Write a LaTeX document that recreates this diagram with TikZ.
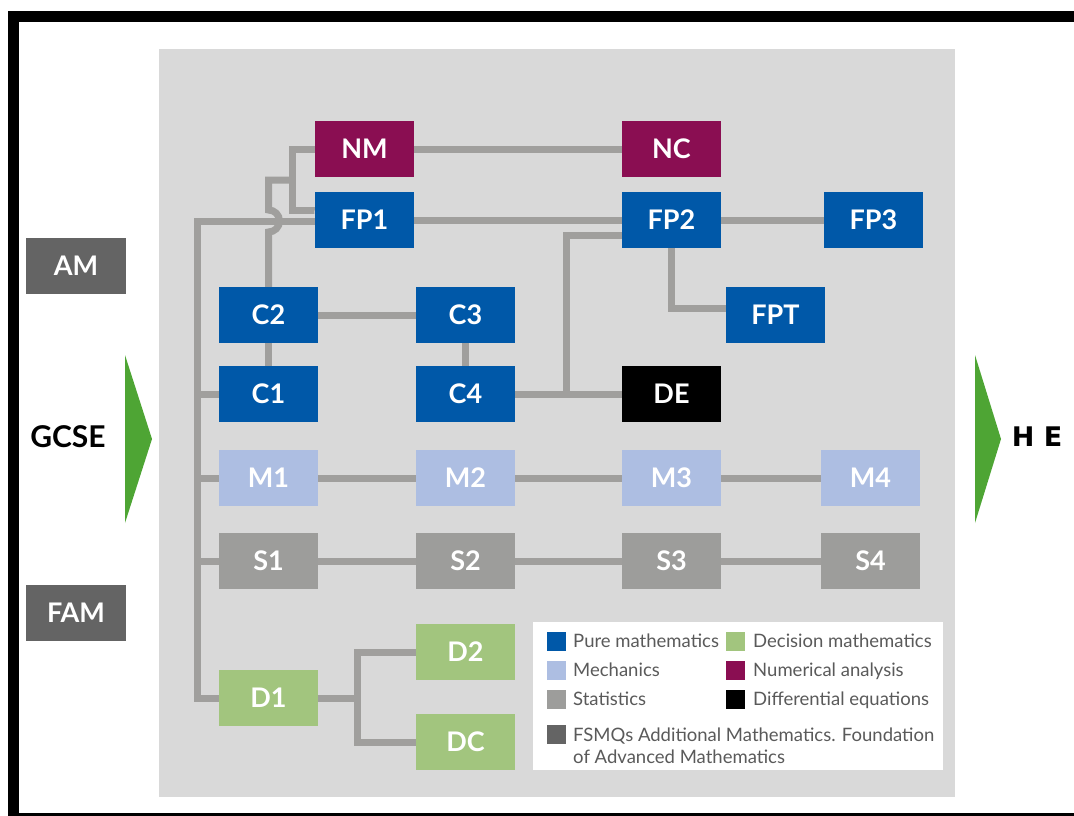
\documentclass[tikz,border=0pt]{standalone}
\usepackage{fontspec}
\setmainfont{Lato}
\newfontfamily\dvfont{DejaVu Sans}
\usetikzlibrary{calc}
\pgfdeclarelayer{back}
\pgfdeclarelayer{bg}
\pgfsetlayers{back,bg,main}
\definecolor{pureblue}{HTML}{0058A8}
\definecolor{numpurple}{HTML}{8A0E52}
\definecolor{mechblue}{HTML}{ADBEE2}
\definecolor{statgray}{HTML}{9D9D9B}
\definecolor{decgreen}{HTML}{A2C57E}
\definecolor{fsmqgray}{HTML}{646464}
\definecolor{conngray}{HTML}{A09F9D}
\definecolor{panelgray}{HTML}{D9D9D9}
\definecolor{arrowgreen}{HTML}{4EA534}
\definecolor{legtext}{HTML}{5A5A5A}
\begin{document}
\begin{tikzpicture}[x=1pt,y=-1pt,
  box/.style={rectangle, minimum width=99pt, minimum height=56pt, inner sep=0pt,
    text=white, font=\bfseries\fontsize{27}{30}\selectfont},
  pure/.style={box, fill=pureblue},
  num/.style={box, fill=numpurple},
  mech/.style={box, fill=mechblue},
  stat/.style={box, fill=statgray},
  dec/.style={box, fill=decgreen},
  fsmq/.style={box, fill=fsmqgray, minimum width=100pt},
  diffeq/.style={box, fill=black},
  conn/.style={draw=conngray, line width=7pt, line join=miter},
  legsq/.style={rectangle, minimum size=19pt, inner sep=0pt},
  legtxt/.style={anchor=base west, inner sep=0pt, text=legtext, font=\fontsize{18.5}{22}\selectfont},
  endarrow/.style={fill=arrowgreen},
  side/.style={font=\bfseries\fontsize{30}{32}\selectfont, text=black, inner sep=0pt}
]
\useasboundingbox (0,0) rectangle (1074,815);
\begin{pgfonlayer}{back}
\fill[white] (0,0) rectangle (1074,815);
\fill[panelgray] (159,49) rectangle (955,797);
\end{pgfonlayer}
\begin{scope}
\clip (0,0) rectangle (1074,815);
\draw[line width=11pt] (13.5,16) rectangle (1100,818);
\end{scope}

% boxes
\node[num]  (NM)  at (364.5,149) {NM};
\node[num]  (NC)  at (671.5,149) {NC};
\node[pure] (FP1) at (364.5,220) {FP1};
\node[pure] (FP2) at (671.5,220) {FP2};
\node[pure] (FP3) at (873.5,220) {FP3};
\node[pure] (FPT) at (775.5,315) {FPT};
\node[pure] (C2)  at (268.5,315) {C2};
\node[pure] (C3)  at (465.5,315) {C3};
\node[pure] (C1)  at (268.5,394) {C1};
\node[pure] (C4)  at (465.5,394) {C4};
\node[diffeq] (DE) at (671.5,394) {DE};
\node[mech] (M1)  at (268.5,478) {M1};
\node[mech] (M2)  at (465.5,478) {M2};
\node[mech] (M3)  at (671.5,478) {M3};
\node[mech] (M4)  at (870.5,478) {M4};
\node[stat] (S1)  at (268.5,561) {S1};
\node[stat] (S2)  at (465.5,561) {S2};
\node[stat] (S3)  at (671.5,561) {S3};
\node[stat] (S4)  at (870.5,561) {S4};
\node[dec]  (D2)  at (465.5,652) {D2};
\node[dec]  (D1)  at (268.5,698) {D1};
\node[dec]  (DC)  at (465.5,742) {DC};
\node[fsmq] (AM)  at (76,266) {AM};
\node[fsmq] (FAM) at (76,613) {FAM};

% side labels and arrows
\node[side] (GCSE) at (68,437) {GCSE};
\node[side, font=\dvfont\bfseries\fontsize{27}{32}\selectfont] (HE) at (1037,437) {H E};
\fill[endarrow] (125,355) -- (152,439) -- (125,523) -- cycle;
\fill[endarrow] (975,355) -- (1001,439) -- (975,523) -- cycle;

% connectors
\coordinate (sp) at (197,221);
\coordinate (br) at (292,180);
\coordinate (jx) at (566,0);
\coordinate (dx) at (357,0);
\begin{pgfonlayer}{bg}
\draw[conn] (NM) -- (NC);
\draw[conn] (FP1) -- (FP2) -- (FP3);
\draw[conn] (FP1.center |- sp) -- (sp) -- (sp |- D1) -- (D1);
\draw[conn] (sp |- C1) -- (C1);
\draw[conn] (sp |- M1) -- (M1);
\draw[conn] (sp |- S1) -- (S1);
\draw[conn] (C1) -- (C2);
\draw[conn] (C2.center) -- ($(C2 |- sp)+(0,11)$)
   arc[start angle=90, end angle=-90, radius=11] -- (C2 |- br) -- (br);
\draw[conn] (NM) -| (br) |- ($(FP1.west)+(0,-10)$) -- (FP1);
\draw[conn] (C2) -- (C3);
\draw[conn] (C3) -- (C4);
\draw[conn] (C4) -- (DE);
\draw[conn] (jx |- C4) |- ($(FP2.center)+(0,15)$);
\draw[conn] (FP2) |- ($(FPT.west)+(0,-7)$) -- ($(FPT.center)+(0,-7)$);
\draw[conn] (M1) -- (M2) -- (M3) -- (M4);
\draw[conn] (S1) -- (S2) -- (S3) -- (S4);
\draw[conn] (D1) -- (dx |- D1);
\draw[conn] (D2) -| ($(dx |- DC)$) -- (DC);
\end{pgfonlayer}

% legend
\node[fill=white, minimum width=410pt, minimum height=148pt, inner sep=0pt, anchor=north west] (legend) at (533,622) {};
\node[legsq, fill=pureblue]  (L1) at (556.5,641.5) {};
\node[legsq, fill=mechblue]  (L2) at (556.5,670.5) {};
\node[legsq, fill=statgray]  (L3) at (556.5,699.5) {};
\node[legsq, fill=fsmqgray]  (L4) at (556.5,734.5) {};
\node[legsq, fill=decgreen]  (L5) at (735.5,641.5) {};
\node[legsq, fill=numpurple] (L6) at (735.5,670.5) {};
\node[legsq, fill=black]     (L7) at (735.5,699.5) {};
\node[legtxt] (T1) at (573,647) {Pure mathematics};
\node[legtxt] (T2) at (573,676) {Mechanics};
\node[legtxt] (T3) at (573,705) {Statistics};
\node[legtxt] (T4) at (573,741) {FSMQs Additional Mathematics. Foundation};
\node[legtxt] (T4b) at (573,763) {of Advanced Mathematics};
\node[legtxt] (T5) at (753,647) {Decision mathematics};
\node[legtxt] (T6) at (753,676) {Numerical analysis};
\node[legtxt] (T7) at (753,705) {Differential equations};
\end{tikzpicture}
\end{document}
